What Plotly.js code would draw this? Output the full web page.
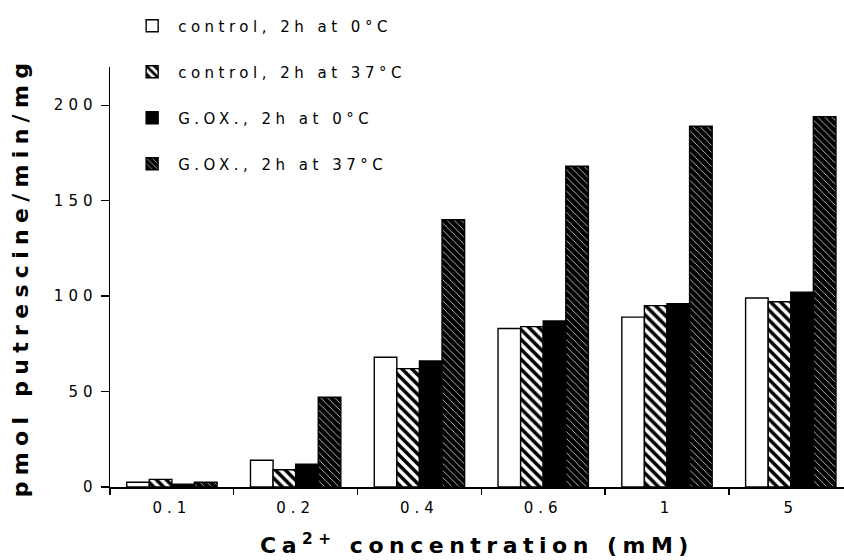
<!DOCTYPE html>
<html>
<head>
<meta charset="utf-8">
<script src="https://cdn.plot.ly/plotly-3.0.1.min.js"></script>
<style>
  html, body { margin: 0; padding: 0; background: #fff; }
  #chart { width: 844px; height: 560px; }
  .legendtext { letter-spacing: 4.5px; }
  .xtitle { letter-spacing: 5.5px; }
  .ytitle { letter-spacing: 6.3px; }
  .xtick text, .ytick text { letter-spacing: 5px; }
</style>
</head>
<body>
<div id="chart"></div>
<script>
const categories = ["0.1", "0.2", "0.4", "0.6", "1", "5"];
const seriesNames = ["control, 2h at 0°C", "control, 2h at 37°C", "G.OX., 2h at 0°C", "G.OX., 2h at 37°C"];
const controlCold = [2.5, 14, 68, 83, 89, 99];
const controlWarm = [4, 9, 62, 84, 95, 97];
const goxCold = [1.5, 12, 66, 87, 96, 102];
const goxWarm = [2.5, 47, 140, 168, 189, 194];
const yTickVals = [0, 50, 100, 150, 200];

const outline = { color: "#000", width: 1.4 };

const traces = [
  { name: seriesNames[0], y: controlCold,
    marker: { color: "#fff", line: outline } },
  { name: seriesNames[1], y: controlWarm,
    marker: { color: "#fff", line: outline,
      pattern: { shape: "\\", bgcolor: "#fff", fgcolor: "#000", size: 7, solidity: 0.5, fillmode: "replace" } } },
  { name: seriesNames[2], y: goxCold,
    marker: { color: "#000", line: outline } },
  { name: seriesNames[3], y: goxWarm,
    marker: { color: "#000", line: outline,
      pattern: { shape: "\\", bgcolor: "#000", fgcolor: "#fff", size: 5, solidity: 0.14, fillmode: "replace" } } }
].map((t, i) => Object.assign({ type: "bar", x: categories, legendgroup: "g" + i, hoverinfo: "skip" }, t));

const layout = {
  width: 844, height: 560,
  margin: { l: 110, r: 0, t: 67, b: 73 },
  paper_bgcolor: "#fff", plot_bgcolor: "#fff",
  font: { family: "DejaVu Sans", color: "#000", size: 15 },
  barmode: "group", bargap: 0.27, bargroupgap: 0,
  showlegend: true,
  legend: {
    x: 0.022, xanchor: "left", y: 1.137, yanchor: "top",
    traceorder: "grouped", tracegroupgap: 23.5, itemwidth: 42,
    font: { family: "DejaVu Sans", size: 15, color: "#000" },
    bgcolor: "rgba(0,0,0,0)"
  },
  xaxis: {
    type: "category", range: [-0.5, 5.43],
    showline: true, linecolor: "#000", linewidth: 1.5,
    ticks: "outside", tickson: "boundaries", ticklen: 6, tickwidth: 1.3, tickcolor: "#000",
    ticklabelstandoff: 6,
    showgrid: false, zeroline: false,
    tickfont: { family: "DejaVu Sans", size: 15, color: "#000" },
    title: { text: "Ca<sup>2+</sup> concentration (mM)", standoff: 22,
      font: { family: "DejaVu Sans", size: 22, weight: "bold", color: "#000" } }
  },
  yaxis: {
    range: [0, 220],
    tickvals: yTickVals, ticktext: yTickVals.map(String),
    showline: true, linecolor: "#000", linewidth: 1.5,
    ticks: "outside", ticklen: 8, tickwidth: 1.3, tickcolor: "#000",
    showgrid: false, zeroline: false,
    tickfont: { family: "DejaVu Sans", size: 15, color: "#000" },
    title: { text: "pmol putrescine/min/mg", standoff: 19,
      font: { family: "DejaVu Sans", size: 22, weight: "bold", color: "#000" } }
  },
  yaxis2: {
    overlaying: "y", side: "left", range: [0, 220],
    tickvals: yTickVals, showticklabels: false,
    ticks: "inside", ticklen: 4, tickwidth: 1.3, tickcolor: "#000",
    showline: false, showgrid: false, zeroline: false
  },
  xaxis2: {
    overlaying: "x", side: "bottom", range: [-0.5, 5.43],
    tickvals: [-0.5, 0.5, 1.5, 2.5, 3.5, 4.5], showticklabels: false,
    ticks: "inside", ticklen: 5, tickwidth: 1.3, tickcolor: "#000",
    showline: false, showgrid: false, zeroline: false
  }
};

Plotly.newPlot("chart", traces, layout, { staticPlot: true, displayModeBar: false });
</script>
</body>
</html>
